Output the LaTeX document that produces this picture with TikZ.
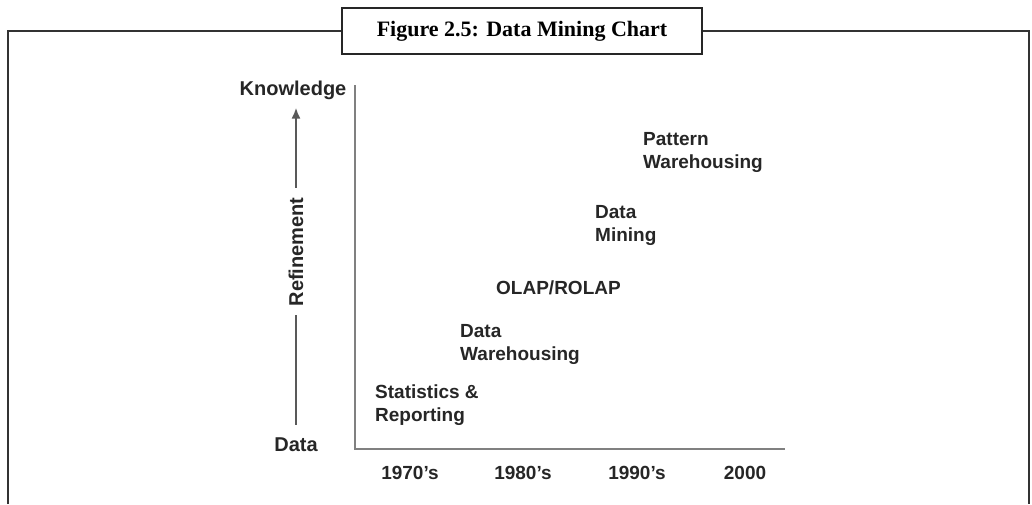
\documentclass[tikz,border=0pt]{standalone}
\usepackage{fontspec}
\setmainfont{Liberation Serif}
\setsansfont{Liberation Sans}
\usetikzlibrary{arrows.meta,positioning}

\begin{document}
\begin{tikzpicture}[x=1pt, y=-1pt, >={Latex[length=11pt,width=9pt]}]
\tikzstyle{titlebox} = [draw, line width=2.5pt, draw=black!85, fill=white, minimum width=360pt, minimum height=46pt, font=\bfseries\fontsize{22}{26}\selectfont]
\tikzstyle{frameline} = [line width=2.5pt, draw=black!80]
\tikzstyle{axisline} = [line width=2.5pt, draw=black!50]
\tikzstyle{stage} = [anchor=west, align=left, inner sep=0pt, text=black!85, font=\sffamily\bfseries\fontsize{19}{23}\selectfont]
\tikzstyle{year} = [stage, anchor=center]
\tikzstyle{level} = [stage, anchor=center, font=\sffamily\bfseries\fontsize{20}{23}\selectfont]   % the two ends of the refinement arrow

\useasboundingbox (0,0) rectangle (1032,504);

    \node [titlebox] (title) at (522,31) {Figure 2.5: Data Mining Chart};
    \draw [frameline] (8,504) -- (8,31) -- (title.west);
    \draw [frameline] (title.east) -- (1029,31) -- (1029,504);

    % axes of the chart
    \coordinate (ytop) at (355,85);
    \coordinate (origin) at (355,449);
    \coordinate (xend) at (785,449);
    \draw [axisline] (ytop) -- (origin) -- (xend);

    \node [year] (y1970) at (410,473) {1970's};
    \node [year] (y1980) at (523,473) {1980's};
    \node [year] (y1990) at (637,473) {1990's};
    \node [year] (y2000) at (745,473) {2000};

    \node [level] (knowledge) at (293,90) {Knowledge};
    \node [level] (data) at (296,445) {Data};
    \draw [-{Latex[length=11pt,width=9pt]}, draw=black!65, fill=black!65, line width=2pt, shorten <=13pt, shorten >=8pt] (data.north) -- node[pos=0.55, level, rotate=90, fill=white, inner xsep=9pt] (refine) {Refinement} (data.north |- knowledge.south);

    % the stages, oldest first
    \node [stage] (stats) at (375,405) {Statistics \&\\Reporting};
    \node [stage] (dwh) at (460,344) {Data\\Warehousing};
    \node [stage] (olap) at (496,288) {OLAP/ROLAP};
    \node [stage] (mining) at (595,225) {Data\\Mining};
    \node [stage] (pattern) at (643,152) {Pattern\\Warehousing};

\end{tikzpicture}
\end{document}
